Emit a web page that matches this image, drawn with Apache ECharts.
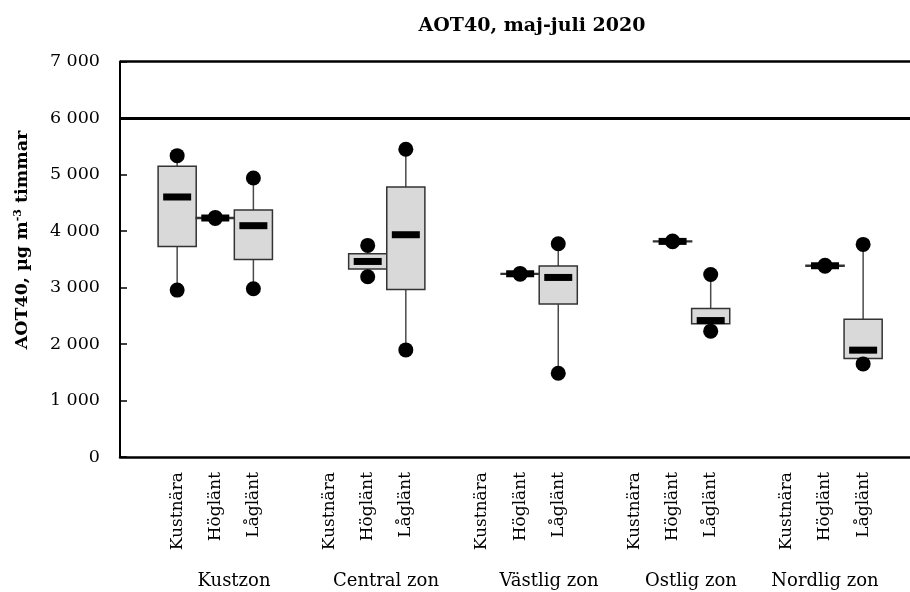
<!DOCTYPE html>
<html>
<head>
<meta charset="utf-8">
<script src="https://cdn.jsdelivr.net/npm/echarts@6/dist/echarts.min.js"></script>
<style>html,body{margin:0;padding:0;background:#fff}#c{width:910px;height:592px}</style>
</head>
<body>
<div id="c"></div>
<script>
const zones = ['Kustzon', 'Central zon', 'Västlig zon', 'Ostlig zon', 'Nordlig zon'];
const sites = ['Kustnära', 'Höglänt', 'Låglänt'];
const yTicks = [0, 1000, 2000, 3000, 4000, 5000, 6000, 7000];
const thresholdValue = 6000;
// per zone x site (Kustnära, Höglänt, Låglänt); null = no data
const minVals    = [2954, 4220, 2977,  null, 3190, 1896,  null, 3235, 1483,  null, 3810, 2227,  null, 3378, 1648];
const q1Vals     = [3727, 4220, 3497,  null, 3326, 2965,  null, 3235, 2706,  null, 3810, 2357,  null, 3378, 1742];
const medianVals = [4602, 4230, 4094,  null, 3461, 3934,  null, 3243, 3178,  null, 3816, 2415,  null, 3385, 1891];
const q3Vals     = [5145, 4241, 4371,  null, 3597, 4779,  null, 3250, 3379,  null, 3822, 2629,  null, 3392, 2440];
const maxVals    = [5334, 4241, 4938,  null, 3745, 5446,  null, 3250, 3775,  null, 3822, 3231,  null, 3392, 3763];

// build slot list: blank slot before each zone, trailing blank
const categories = [];
const catIndexOf = [];
zones.forEach((z, zi) => {
  categories.push('');
  sites.forEach((s, si) => { catIndexOf.push(categories.length); categories.push(s); });
});
categories.push('');

const boxData = [];
const dotData = [];
for (let i = 0; i < minVals.length; i++) {
  if (minVals[i] == null) continue;
  const c = catIndexOf[i];
  boxData.push([c, minVals[i], q1Vals[i], medianVals[i], q3Vals[i], maxVals[i]]);
  dotData.push([c, minVals[i]]);
  dotData.push([c, maxVals[i]]);
}

const FONT = 'DejaVu Serif';
const chart = echarts.init(document.getElementById('c'), null, {renderer: 'canvas'});
const zoneX = [234, 386, 549, 691, 825];

chart.setOption({
  animation: false,
  backgroundColor: '#fff',
  grid: {left: 120, top: 61.5, right: 0, bottom: 135, containLabel: false},
  xAxis: {
    type: 'value',
    min: -0.5, max: 20.23, interval: 0.5,
    splitLine: {show: false},
    axisLine: {onZero: false, lineStyle: {color: '#000', width: 2.5}},
    axisTick: {show: false},
    axisLabel: {
      rotate: 90, margin: 15, color: '#000', fontFamily: FONT, fontSize: 17,
      showMinLabel: true, showMaxLabel: true,
      formatter: v => (Number.isInteger(v) && categories[v]) ? categories[v] : ''
    }
  },
  yAxis: {
    type: 'value',
    min: yTicks[0], max: yTicks[yTicks.length - 1], interval: 1000,
    axisLine: {show: true, onZero: false, lineStyle: {color: '#000', width: 2}},
    axisTick: {show: true, inside: true, length: 7, lineStyle: {color: '#000', width: 1.5}},
    splitLine: {show: false},
    axisLabel: {
      margin: 20, color: '#000', fontFamily: FONT, fontSize: 17.5,
      formatter: v => String(v).replace(/\B(?=(\d{3})+(?!\d))/g, ' ')
    }
  },
  graphic: [
    {type: 'text', x: 532, y: 26, style: {text: 'AOT40, maj-juli 2020', fontFamily: FONT, fontWeight: 'bold', fontSize: 19, fill: '#000', align: 'center', verticalAlign: 'middle'}},
    {type: 'text', x: 22, y: 240, rotation: Math.PI / 2,
      style: {
        text: '{b|AOT40, µg m}{s|-3}{b| timmar}', align: 'center', verticalAlign: 'middle',
        rich: {
          b: {fontFamily: FONT, fontWeight: 'bold', fontSize: 17.5, fill: '#000'},
          s: {fontFamily: FONT, fontWeight: 'bold', fontSize: 11, fill: '#000', verticalAlign: 'top', padding: [0, 0, 8, 0]}
        }
      }}
  ].concat(zones.map((z, i) => ({
    type: 'text', x: zoneX[i], y: 581,
    style: {text: z, fontFamily: FONT, fontSize: 18, fill: '#000', align: 'center', verticalAlign: 'middle'}
  }))),
  series: [
    {
      type: 'custom',
      data: boxData,
      encode: {x: 0, y: [1, 2, 3, 4, 5]},
      z: 2,
      renderItem: function (params, api) {
        const c = api.value(0);
        const pMin = api.coord([c, api.value(1)]);
        const pQ1 = api.coord([c, api.value(2)]);
        const pMd = api.coord([c, api.value(3)]);
        const pQ3 = api.coord([c, api.value(4)]);
        const pMax = api.coord([c, api.value(5)]);
        const w = api.size([1, 0])[0];
        const cx = pMd[0];
        const wStyle = {stroke: '#4a4a4a', lineWidth: 1.5};
        return {
          type: 'group',
          children: [
            {type: 'line', shape: {x1: cx, y1: pMin[1], x2: cx, y2: pQ1[1]}, style: wStyle},
            {type: 'line', shape: {x1: cx, y1: pQ3[1], x2: cx, y2: pMax[1]}, style: wStyle},
            {type: 'rect', shape: {x: cx - w / 2, y: pQ3[1], width: w, height: Math.max(pQ1[1] - pQ3[1], 0.5)},
              style: {fill: '#d9d9d9', stroke: '#333', lineWidth: 1.5}},
            {type: 'rect', shape: {x: cx - 14, y: pMd[1] - 3.5, width: 28, height: 7}, style: {fill: '#000'}}
          ]
        };
      }
    },
    {
      type: 'scatter',
      data: dotData,
      symbol: 'circle',
      symbolSize: 15,
      itemStyle: {color: '#000', opacity: 1},
      z: 3,
      markLine: {
        silent: true, symbol: ['none', 'none'], label: {show: false},
        data: [
          {yAxis: thresholdValue, lineStyle: {color: '#000', width: 3, type: 'solid'}},
          {yAxis: yTicks[yTicks.length - 1], lineStyle: {color: '#000', width: 2.5, type: 'solid'}}
        ]
      }
    }
  ]
});
</script>
</body>
</html>
